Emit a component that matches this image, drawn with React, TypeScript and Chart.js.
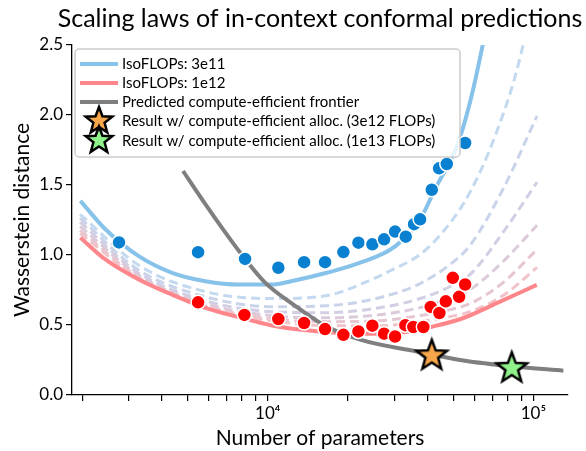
import React, { useEffect, useRef } from 'react';
import { Chart, registerables } from 'chart.js';

Chart.register(...registerables);

const FONT = "Lato, 'DejaVu Sans', sans-serif";

// ---- measured model results ----
const blueParams = [2754, 5465, 8214, 10960, 13700, 16430, 19260, 21940, 24760, 27410, 30150, 33080, 35550, 37450, 41450, 44160, 47200, 55340];
const blueDist = [1.09, 1.02, 0.972, 0.909, 0.949, 0.949, 1.021, 1.088, 1.076, 1.112, 1.167, 1.131, 1.22, 1.255, 1.466, 1.619, 1.65, 1.8];
const redParams = [5465, 8165, 10960, 13700, 16430, 19260, 21940, 24760, 27410, 30150, 32960, 35320, 38530, 41080, 44270, 46800, 49730, 52530, 55340];
const redDist = [0.662, 0.572, 0.543, 0.514, 0.471, 0.43, 0.454, 0.495, 0.438, 0.418, 0.499, 0.486, 0.486, 0.629, 0.586, 0.669, 0.837, 0.701, 0.789];

// ---- IsoFLOP fits ----
const iso3e11Params = [1970, 2447, 3268, 4362, 5821, 7779, 10380, 12130, 16680, 22260, 30150, 37450, 42650, 52070, 58800, 64660];
const iso3e11Dist = [1.387, 1.184, 0.992, 0.873, 0.813, 0.789, 0.789, 0.811, 0.873, 0.945, 1.062, 1.255, 1.471, 1.801, 2.152, 2.511];
const iso1e12Params = [1970, 2447, 3268, 4362, 5821, 7779, 10380, 15290, 22260, 31480, 42030, 54520, 72800, 102990];
const iso1e12Dist = [1.124, 0.968, 0.825, 0.717, 0.622, 0.556, 0.497, 0.455, 0.438, 0.445, 0.49, 0.55, 0.656, 0.787];

// intermediate IsoFLOP curves (dashed)
const isoAParams = [1965, 3277, 5807, 10380, 16725, 22260, 29630, 37450, 44540, 54370, 63010, 73000, 83870, 91460, 97180];
const isoADist = [1.291, 0.925, 0.739, 0.689, 0.71, 0.789, 0.897, 1.004, 1.141, 1.363, 1.593, 1.887, 2.224, 2.496, 2.69];
const isoMidParams = [1965, 3277, 5807, 10380, 16725, 26480, 37450, 48580, 57770, 76900, 103250];
const isoBDist = [1.263, 0.89, 0.703, 0.631, 0.638, 0.696, 0.796, 0.933, 1.069, 1.471, 1.994];
const isoCDist = [1.234, 0.868, 0.674, 0.595, 0.588, 0.624, 0.689, 0.775, 0.861, 1.162, 1.521];
const isoDDist = [1.205, 0.854, 0.653, 0.567, 0.552, 0.574, 0.624, 0.689, 0.753, 0.954, 1.212];
const isoEDist = [1.176, 0.839, 0.638, 0.545, 0.524, 0.531, 0.567, 0.61, 0.653, 0.803, 1.04];
const isoFDist = [1.155, 0.832, 0.631, 0.531, 0.495, 0.495, 0.524, 0.56, 0.595, 0.71, 0.911];
const dashedColors = ['#c3d9ef', '#c9d3ea', '#d2cee3', '#dbcada', '#e6c6d1', '#f0c3c9'];

// ---- compute-efficient frontier ----
const frontierParams = [4797, 5821, 6829, 8165, 9794, 12490, 16190, 22260, 36390, 54520, 84080, 129700];
const frontierDist = [1.6, 1.363, 1.176, 0.978, 0.801, 0.646, 0.502, 0.395, 0.311, 0.246, 0.203, 0.174];

// ---- compute-efficient results ----
const star3e12Params = [41450];
const star3e12Dist = [0.28];
const star1e13Params = [82930];
const star1e13Dist = [0.191];

// ---- axes ----
const xTickValues = [2000, 3000, 4000, 5000, 6000, 7000, 8000, 9000, 10000, 20000, 30000, 40000, 50000, 60000, 70000, 80000, 90000, 100000];
const xLabels: Record<number, string> = { 10000: '10⁴', 100000: '10⁵' };
const legendLabels = [
  'IsoFLOPs: 3e11',
  'IsoFLOPs: 1e12',
  'Predicted compute-efficient frontier',
  'Result w/ compute-efficient alloc. (3e12 FLOPs)',
  'Result w/ compute-efficient alloc. (1e13 FLOPs)',
];

const BLUE_PT = '#0a80d0';
const RED_PT = '#ff0000';
const BLUE_LINE = '#86c2ea';
const RED_LINE = '#ff878c';
const GRAY = '#7f7f7f';
const ORANGE = '#f7a64b';
const GREEN = '#8ff28a';

const pts = (xs: number[], ys: number[]) => xs.map((x, i) => ({ x, y: ys[i] }));

function traceStar(g: CanvasRenderingContext2D, cx: number, cy: number, R: number, r: number) {
  g.beginPath();
  for (let i = 0; i < 10; i++) {
    const rad = i % 2 === 0 ? R : r;
    const a = -Math.PI / 2 + (i * Math.PI) / 5;
    const px = cx + rad * Math.cos(a);
    const py = cy + rad * Math.sin(a);
    if (i === 0) g.moveTo(px, py);
    else g.lineTo(px, py);
  }
  g.closePath();
}

function starCanvas(fill: string, R: number, lw: number) {
  const size = Math.ceil(2 * (R + lw + 2));
  const c = document.createElement('canvas');
  c.width = size;
  c.height = size;
  const g = c.getContext('2d')!;
  traceStar(g, size / 2, size / 2, R, R * 0.42);
  g.fillStyle = fill;
  g.fill();
  g.lineWidth = lw;
  g.lineJoin = 'miter';
  g.strokeStyle = '#000';
  g.stroke();
  return c;
}

const titlePlugin = {
  id: 'centredTitle',
  afterDraw(chart: any) {
    const { ctx, chartArea } = chart;
    ctx.save();
    ctx.font = `25px ${FONT}`;
    ctx.fillStyle = '#000';
    ctx.textAlign = 'center';
    ctx.textBaseline = 'middle';
    ctx.fillText('Scaling laws of in-context conformal predictions', (chartArea.left + chartArea.right) / 2, 19);
    ctx.restore();
  },
};

const legendPlugin = {
  id: 'insideLegend',
  afterDraw(chart: any) {
    const ctx = chart.ctx as CanvasRenderingContext2D;
    const bx = 75, by = 49, bw = 385, bh = 108;
    ctx.save();
    ctx.beginPath();
    (ctx as any).roundRect(bx, by, bw, bh, 4);
    ctx.fillStyle = 'rgba(255,255,255,0.8)';
    ctx.fill();
    ctx.lineWidth = 1.5;
    ctx.strokeStyle = '#cccccc';
    ctx.stroke();
    const rows = [64, 83, 102, 121, 140.5];
    const lineColors = [BLUE_LINE, RED_LINE, GRAY];
    ctx.font = `15px ${FONT}`;
    ctx.textBaseline = 'middle';
    ctx.textAlign = 'left';
    rows.forEach((y, i) => {
      if (i < 3) {
        ctx.beginPath();
        ctx.moveTo(80, y);
        ctx.lineTo(118, y);
        ctx.lineWidth = 4;
        ctx.lineCap = 'butt';
        ctx.strokeStyle = lineColors[i];
        ctx.stroke();
      } else {
        traceStar(ctx, 99, y, 14, 14 * 0.42);
        ctx.fillStyle = i === 3 ? ORANGE : GREEN;
        ctx.fill();
        ctx.lineWidth = 2.5;
        ctx.strokeStyle = '#000';
        ctx.stroke();
      }
      ctx.fillStyle = '#000';
      ctx.fillText(legendLabels[i], 122, y + 0.5);
    });
    ctx.restore();
  },
};

export default function App() {
  const ref = useRef<HTMLCanvasElement>(null);

  useEffect(() => {
    const canvas = ref.current;
    if (!canvas) return;
    const orangeStar = starCanvas(ORANGE, 16, 2.5);
    const greenStar = starCanvas(GREEN, 16, 2.5);

    const dashedSets = [
      pts(isoAParams, isoADist),
      pts(isoMidParams, isoBDist),
      pts(isoMidParams, isoCDist),
      pts(isoMidParams, isoDDist),
      pts(isoMidParams, isoEDist),
      pts(isoMidParams, isoFDist),
    ].map((data, i) => ({
      label: `iso-${i}`,
      data,
      showLine: true,
      borderColor: dashedColors[i],
      borderWidth: 3,
      borderDash: [9, 5],
      pointRadius: 0,
      cubicInterpolationMode: 'monotone' as const,
      clip: 0,
      order: 10 - i,
    }));

    const chart = new Chart(canvas, {
      type: 'scatter',
      data: {
        datasets: [
          {
            label: legendLabels[3],
            data: pts(star3e12Params, star3e12Dist),
            pointStyle: orangeStar as any,
            pointRadius: 16,
            order: 0,
          },
          {
            label: legendLabels[4],
            data: pts(star1e13Params, star1e13Dist),
            pointStyle: greenStar as any,
            pointRadius: 16,
            order: 0,
          },
          {
            label: 'models-3e11',
            data: pts(blueParams, blueDist),
            pointRadius: 7,
            pointBackgroundColor: BLUE_PT,
            pointBorderColor: '#ffffff',
            pointBorderWidth: 1.5,
            order: 1,
          },
          {
            label: 'models-1e12',
            data: pts(redParams, redDist),
            pointRadius: 7,
            pointBackgroundColor: RED_PT,
            pointBorderColor: '#ffffff',
            pointBorderWidth: 1.5,
            order: 1,
          },
          {
            label: legendLabels[2],
            data: pts(frontierParams, frontierDist),
            showLine: true,
            borderColor: GRAY,
            borderWidth: 4,
            pointRadius: 0,
            cubicInterpolationMode: 'monotone',
            clip: 0,
            order: 2,
          },
          {
            label: legendLabels[0],
            data: pts(iso3e11Params, iso3e11Dist),
            showLine: true,
            borderColor: BLUE_LINE,
            borderWidth: 4,
            pointRadius: 0,
            cubicInterpolationMode: 'monotone',
            clip: 0,
            order: 3,
          },
          {
            label: legendLabels[1],
            data: pts(iso1e12Params, iso1e12Dist),
            showLine: true,
            borderColor: RED_LINE,
            borderWidth: 4,
            pointRadius: 0,
            cubicInterpolationMode: 'monotone',
            clip: 0,
            order: 3,
          },
          ...dashedSets,
        ] as any,
      },
      options: {
        animation: false,
        responsive: false,
        events: [],
        layout: { padding: { top: 45, right: 18, left: 0, bottom: 0 } },
        plugins: {
          legend: { display: false },
          tooltip: { enabled: false },
          title: { display: false },
        },
        scales: {
          x: {
            type: 'logarithmic',
            min: 1832,
            max: 135000,
            position: 'bottom',
            border: { display: true, color: '#000', width: 1.3 },
            grid: { display: true, drawOnChartArea: false, drawTicks: true, tickLength: 6, color: '#000', lineWidth: 1.2 },
            afterBuildTicks: (scale: any) => {
              scale.ticks = xTickValues.map((v) => ({ value: v }));
            },
            afterFit: (scale: any) => {
              scale.height = 56;
            },
            ticks: {
              autoSkip: false,
              maxRotation: 0,
              color: '#000',
              padding: 2,
              font: { family: FONT, size: 17 },
              callback: (v: any) => xLabels[Number(v)] ?? '',
            },
            title: {
              display: true,
              text: 'Number of parameters',
              color: '#000',
              font: { family: FONT, size: 21 },
              padding: { top: 0, bottom: 0 },
            },
          },
          y: {
            type: 'linear',
            min: 0,
            max: 2.5,
            border: { display: true, color: '#000', width: 1.3 },
            grid: { display: true, drawOnChartArea: false, drawTicks: true, tickLength: 6, color: '#000', lineWidth: 1.2 },
            afterFit: (scale: any) => {
              scale.width = 72;
            },
            ticks: {
              stepSize: 0.5,
              color: '#000',
              padding: 3,
              font: { family: FONT, size: 17 },
              callback: (v: any) => Number(v).toFixed(1),
            },
            title: {
              display: true,
              text: 'Wasserstein distance',
              color: '#000',
              font: { family: FONT, size: 21 },
              padding: { top: 10, bottom: 0 },
            },
          },
        },
      },
      plugins: [titlePlugin, legendPlugin],
    } as any);

    return () => chart.destroy();
  }, []);

  return (
    <div style={{ position: 'fixed', left: 0, top: 0, width: 586, height: 451, background: '#fff' }}>
      <canvas ref={ref} width={586} height={451} style={{ display: 'block', width: 586, height: 451 }} />
    </div>
  );
}
